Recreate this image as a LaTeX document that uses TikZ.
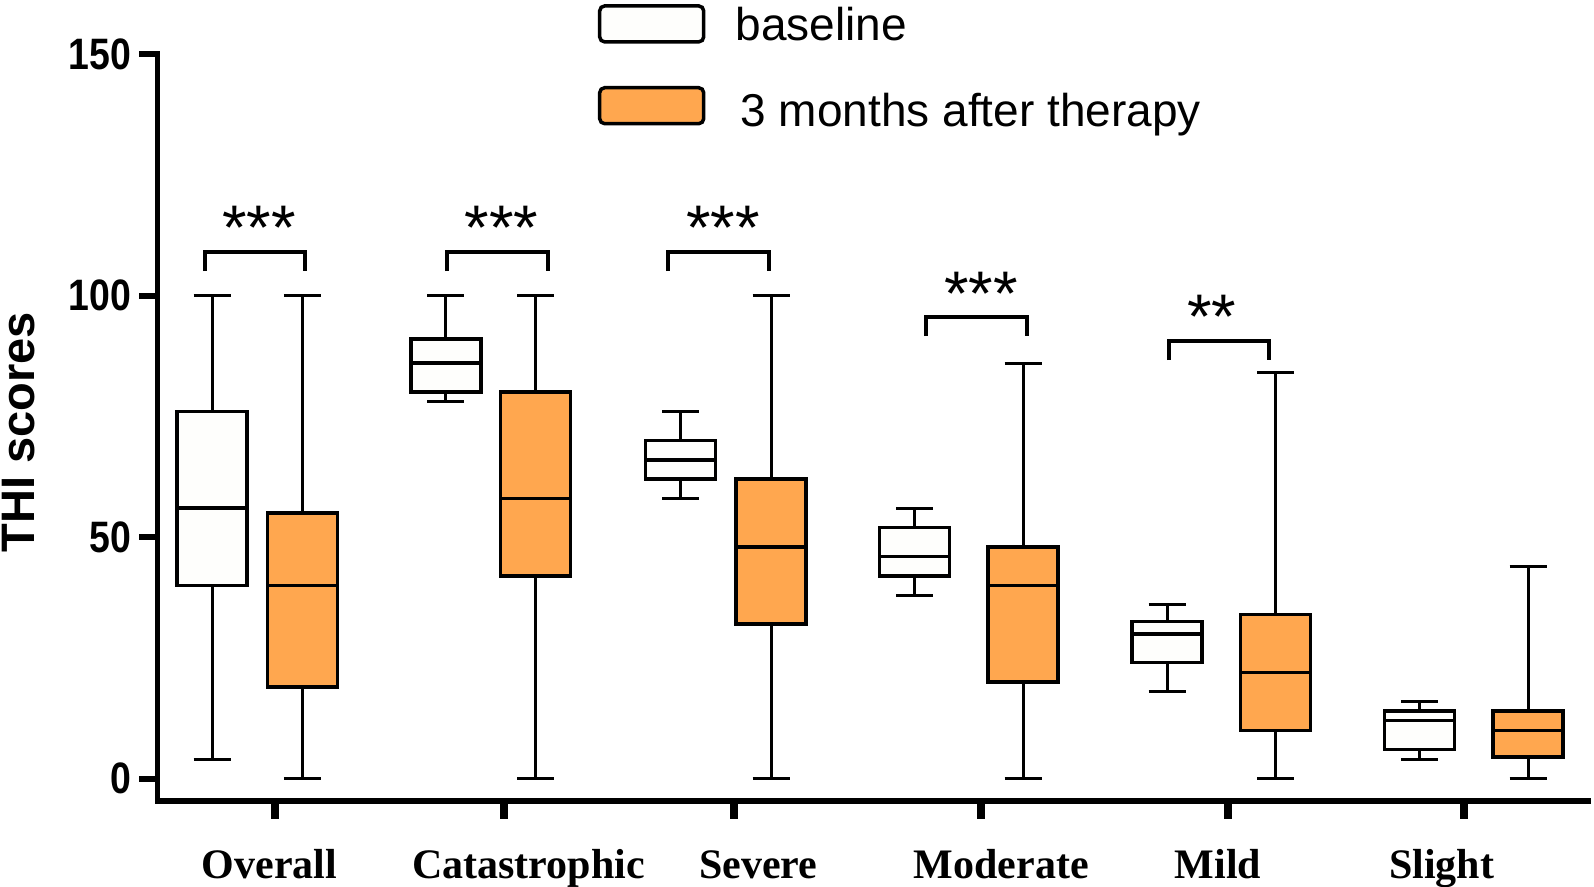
\documentclass[tikz,border=0pt]{standalone}
\usepackage{fontspec}
\setmainfont{Liberation Serif}
\setsansfont{Liberation Sans}
\usetikzlibrary{positioning}
\definecolor{basefill}{RGB}{254,254,252}
\definecolor{afterfill}{RGB}{255,167,79}

% value 0 sits at row 778.7, one score point is 4.832 rows
\newcommand{\vzero}{778.7}
\newcommand{\vunit}{4.832}
% #1 centre, #2 min, #3 q1, #4 median, #5 q3, #6 max, #7 fill
\newcommand{\thibox}[7]{%
  \pgfmathsetmacro{\bxmin}{\vzero-\vunit*#2}%
  \pgfmathsetmacro{\bxlow}{\vzero-\vunit*#3}%
  \pgfmathsetmacro{\bxmed}{\vzero-\vunit*#4}%
  \pgfmathsetmacro{\bxhigh}{\vzero-\vunit*#5}%
  \pgfmathsetmacro{\bxmax}{\vzero-\vunit*#6}%
  \draw[whisker] (#1,\bxmin) -- (#1,\bxmax);
  \draw[whisker] (#1-18.5,\bxmin) -- (#1+18.5,\bxmin);
  \draw[whisker] (#1-18.5,\bxmax) -- (#1+18.5,\bxmax);
  \draw[boxline,fill=#7] (#1-35,\bxlow) rectangle (#1+35,\bxhigh);
  \draw[boxline] (#1-35,\bxmed) -- (#1+35,\bxmed);
}

\begin{document}
\begin{tikzpicture}[x=1pt,y=-1pt,
    axis/.style={line width=5.5pt,line join=miter},
    whisker/.style={line width=3pt},
    boxline/.style={line width=3.5pt},
    bracket/.style={line width=4pt},
    stars/.style={font=\fontsize{63}{63}\selectfont\sffamily,anchor=base,inner sep=0pt,yshift=3pt},
    ticklabel/.style={font=\fontsize{44}{44}\selectfont\sffamily\bfseries,xscale=0.85,anchor=east,inner sep=0pt},
    catlabel/.style={font=\fontsize{42}{42}\selectfont\bfseries,anchor=base,inner sep=0pt},
    legbox/.style={draw=black,line width=3.5pt,rounded corners=5pt,minimum width=104pt,minimum height=36pt,inner sep=0pt},
    legtext/.style={font=\fontsize{46}{46}\selectfont\sffamily,inner sep=0pt,text depth=0pt}]
  \useasboundingbox (0,0) rectangle (1594,886);

  % axes
  \draw[axis] (157.6,51) -- (157.6,801) -- (1591,801);
  \foreach \v in {0,50,100,150}
    \draw[line width=6pt] (139,{\vzero-\vunit*\v}) -- (157.6,{\vzero-\vunit*\v});
  \foreach \x in {274.5,504.2,734,981,1228,1464}
    \draw[line width=8pt] (\x,801) -- (\x,819);

  \node[ticklabel,name=t150] at (131,{\vzero-\vunit*150}) {150};
  \node[ticklabel,name=t100] at (131,{\vzero-\vunit*100}) {100};
  \node[ticklabel,name=t50] at (131,{\vzero-\vunit*50}) {50};
  \node[ticklabel,name=t0] at (131,\vzero) {0};
  \node[font=\fontsize{47}{47}\selectfont\sffamily\bfseries,rotate=90,name=ytitle] at (18.5,432) {THI scores};

  % boxes
  \thibox{212}{4}{40}{56}{76}{100}{basefill}
  \thibox{302.4}{0}{19}{40}{55}{100}{afterfill}
  \thibox{445.8}{78}{80}{86}{91}{100}{basefill}
  \thibox{535.7}{0}{42}{58}{80}{100}{afterfill}
  \thibox{680.6}{58}{62}{66}{70}{76}{basefill}
  \thibox{771.1}{0}{32}{48}{62}{100}{afterfill}
  \thibox{914.5}{38}{42}{46}{52}{56}{basefill}
  \thibox{1023}{0}{20}{40}{48}{86}{afterfill}
  \thibox{1167}{18}{24}{30}{32.5}{36}{basefill}
  \thibox{1275.5}{0}{10}{22}{34}{84}{afterfill}
  \thibox{1419.5}{4}{6}{12}{14}{16}{basefill}
  \thibox{1528}{0}{4.5}{10}{14}{44}{afterfill}

  % significance
  \draw[bracket] (204.5,271) -- (204.5,251.5) -- (305,251.5) -- (305,271);
  \draw[bracket] (446.5,271) -- (446.5,251.5) -- (547.5,251.5) -- (547.5,271);
  \draw[bracket] (668,271) -- (668,251.5) -- (768.5,251.5) -- (768.5,271);
  \draw[bracket] (926,336) -- (926,317) -- (1026.5,317) -- (1026.5,336);
  \draw[bracket] (1168.5,360) -- (1168.5,341) -- (1269,341) -- (1269,360);
  \node[stars,name=s1] at (259,252) {***};
  \node[stars,name=s2] at (501.5,252) {***};
  \node[stars,name=s3] at (722.8,252) {***};
  \node[stars,name=s4] at (981,318) {***};
  \node[stars,name=s5] at (1211.5,341) {**};

  % categories
  \node[catlabel,name=overall] at (269.4,878) {Overall};
  \node[catlabel,name=catas] at (528.6,878) {Catastrophic};
  \node[catlabel,name=severe] at (758.4,878) {Severe};
  \node[catlabel,name=moder] at (1001.3,878) {Moderate};
  \node[catlabel,name=mild] at (1217.9,878) {Mild};
  \node[catlabel,name=slight] at (1441.5,878) {Slight};

  % legend
  \node[legbox,fill=basefill,name=legbase] at (651.7,23.9) {};
  \node[legbox,fill=afterfill,name=legafter] at (651.7,105.7) {};
  \node[legtext,name=legbasetext,right=30pt of legbase] {baseline};
  \node[legtext,name=legaftertext,right=35pt of legafter,yshift=-4pt] {3 months after therapy};
\end{tikzpicture}
\end{document}
